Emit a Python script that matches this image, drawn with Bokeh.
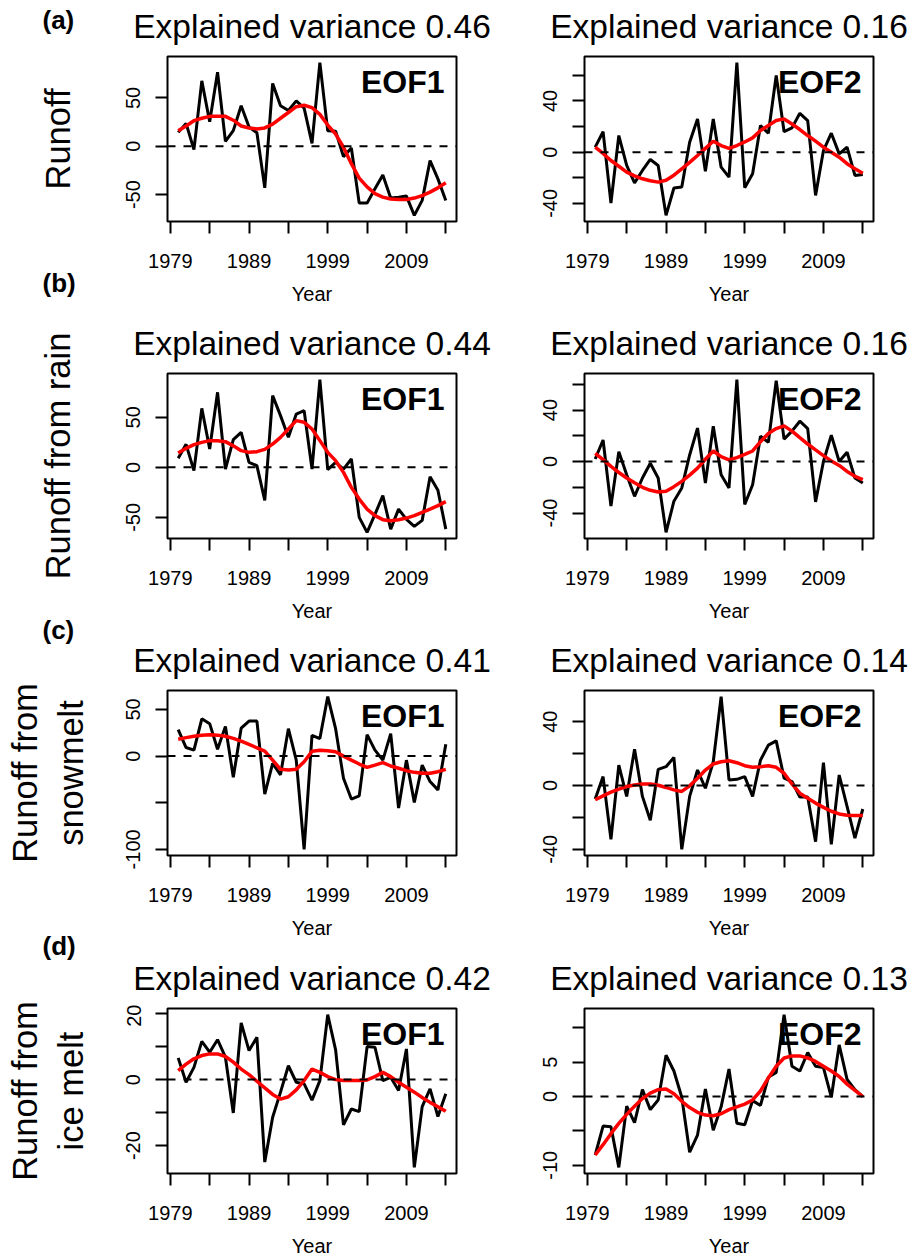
import numpy as np
from bokeh.plotting import figure
from bokeh.models import Range1d, FixedTicker, Span, Label
from bokeh.layouts import column, row
from bokeh.embed import file_html
from bokeh.resources import INLINE

# ---------------- data ----------------
years = list(range(1980, 2015))
x_ticks = [1979, 1984, 1989, 1994, 1999, 2004, 2009, 2014]
x_tick_labels = ["1979", "", "1989", "", "1999", "", "2009", ""]

runoff_eof1 = [14.4, 23.7, -3.4, 67.7, 25.4, 76.6, 5.2, 16.2, 41.9, 20, 14, -43, 65, 42, 37, 47, 39.5, 3,
               86.6, 16, 15.5, -10.7, -1.7, -58.8, -58.8, -44, -29.6, -53.6, -52.6, -51.5, -71.5, -56, -14.8, -33.7, -56]
runoff_eof1_trend = [16, 21, 26.5, 29, 31, 31, 31, 27, 21, 19, 18, 19, 23, 29, 35, 41, 42.5, 40,
                     33, 22, 12.7, -1, -18, -33, -42, -49, -52.6, -54.6, -55, -55, -53.6, -51, -47.4, -43, -37.8]
runoff_eof2 = [3.9, 16, -39.7, 13, -10.4, -24, -14.3, -5.7, -10.4, -49.4, -28, -27.3, 7.8, 26, -15, 26, -11.7, -19.5,
               70, -27.8, -16.9, 20.8, 14.8, 60, 16, 19, 30.4, 24.7, -33.8, 1.3, 14.8, -1.3, 3.9, -18.2, -17.4]
runoff_eof2_trend = [3.9, -1, -6.5, -11, -15.6, -18.5, -20.8, -22.3, -23.4, -22, -18, -13, -8, -2.6, 3, 8.6, 5.2, 3,
                     5.2, 8, 11.2, 16.9, 20.8, 24.7, 26, 22, 17.7, 13, 8.6, 3.9, 0, -3.9, -9, -13, -16.4]

rain_eof1 = [9, 23, -3.3, 59, 18.3, 75, -1.7, 27.7, 35, 5, 1.7, -33, 71.7, 51.7, 30, 53.3, 56.7, -1.7,
             87.7, -2.3, 5, -1.7, 8.3, -50, -65, -47, -28.3, -61.7, -41.7, -52, -59, -53, -9.3, -23, -61.7]
rain_eof1_trend = [14.3, 19, 22.7, 25, 26.7, 26.7, 25.7, 21.5, 16.7, 15, 15.7, 18, 23.3, 30, 38.3, 46.7, 45, 38.3,
                   26.7, 15, 6.7, -5, -20, -31.7, -41.7, -48.3, -52.3, -53.3, -52.3, -50.7, -48.3, -45, -41.7, -38.3, -34.3]
rain_eof2 = [2, 16.7, -34.6, 7.7, -10.3, -27, -12.8, -1.3, -12.8, -55, -30.8, -20.5, 5.1, 26, -16.7, 27.4, -10.3, -20.5,
             63.6, -33.3, -18, 19.7, 14.9, 62.8, 17.4, 23.6, 31.3, 25.6, -31.3, 0, 20.5, 0, 7.2, -12.8, -16.7]
rain_eof2_trend = [6.4, 1.5, -3.8, -8.5, -12.8, -16.5, -20, -22.3, -23.6, -23, -19.5, -15.4, -10.5, -5.1, 1.8, 8.2, 3.8, 1.3,
                   3, 5.5, 8.2, 15.4, 21.8, 25.6, 27.7, 23.6, 18.5, 13.6, 9, 4.6, 0.5, -3, -7.7, -11.5, -14]

snow_eof1 = [28.4, 9.2, 6.4, 40, 34.8, 7.4, 31.9, -22.7, 30, 37.6, 37.6, -40.8, -7.8, -20, 29.4, -4.3, -100, 22.3,
             18.8, 63.8, 29.4, -23.8, -46, -42.6, 23, 6.4, -4.3, 24.1, -55.7, -4.3, -49.6, -9.6, -27.3, -36.2, 12.8]
snow_eof1_trend = [18, 19.8, 21.3, 22.3, 23, 22.5, 21.3, 19, 16, 12.5, 8.9, 5.3, -4.3, -14.2, -14.9, -14.2, -6, 5.3,
                   6.4, 5.7, 4.6, 0, -4.3, -8.5, -12, -9.6, -7, -10.6, -13, -15.6, -17.4, -18.4, -18.4, -16.7, -14.2]
snow_eof2 = [-8.5, 5.6, -33.7, 12.8, -6.8, 22.8, -6.8, -21.7, 10.1, 11.8, 17.6, -40, -6.8, 9.7, -1.7, 14.9, 55.7, 3.5,
             3.9, 5.6, -6.8, 15.9, 25.3, 28, 4.6, 2.5, -7.2, -7.2, -35.2, 14.3, -36.9, 6.6, -13, -33, -14.7]
snow_eof2_trend = [-8.9, -6.5, -4.1, -2.2, -0.6, 0.3, 1, 1, 0.2, -1.2, -2.7, -3.7, -0.2, 4.6, 9.7, 13.5, 14.9, 15.5,
                   14.3, 12.4, 11.4, 11.8, 12.4, 11.4, 7.7, 1, -4.8, -7.9, -11, -13.7, -16.1, -17.8, -18.6, -18.8, -18.8]

ice_eof1 = [6.6, -0.8, 3.7, 11.6, 8.3, 12.1, 6.8, -10.1, 17.2, 8.8, 12.8, -25, -11.4, -3.8, 4.2, -0.8, -1.3, -6.2,
            -0.3, 19.7, 9, -13.7, -8.9, -9.7, 10, 9.8, -0.3, 0.7, -3.3, 9.3, -26.6, -8.2, -2.8, -11.2, -4.3]
ice_eof1_trend = [2.7, 4.7, 6.3, 7.3, 7.8, 7.8, 7, 5.3, 3.2, 1.5, -0.5, -2.5, -4.5, -5.9, -5.2, -3.1, -0.3, 3.2,
                  2.2, 0.9, 0, -0.3, -0.3, -0.3, -0.1, 0.9, 2.2, 0.9, -0.8, -2.3, -3.8, -5.4, -6.9, -8.2, -9.6]
ice_eof2 = [-8.5, -4.3, -4.4, -10.3, -1.4, -3.8, 1, -1.9, -0.5, 6, 3.7, -0.1, -8.1, -5.6, 1.1, -4.9, -1.5, 4,
            -3.9, -4.1, -0.6, -1.3, 2.8, 3.5, 11.9, 4.4, 3.7, 6.4, 4.4, 4.2, -0.1, 7.5, 2.5, 1, 0]
ice_eof2_trend = [-8.5, -7, -5.4, -3.9, -2.6, -1.4, -0.3, 0.5, 1, 1.1, 0.4, -0.7, -1.6, -2.3, -2.7, -2.8, -2.5, -1.9,
                  -1.5, -1.1, -0.5, 0.8, 2.7, 4.4, 5.6, 5.9, 5.9, 5.6, 5.1, 4.4, 3.7, 2.9, 1.8, 0.9, 0]

# y ticks and which of them carry a label
yt_runoff1 = [-50, 0, 50];              yl_runoff1 = ["-50", "0", "50"]
yt_runoff2 = [-40, -20, 0, 20, 40, 60]; yl_runoff2 = ["-40", "", "0", "", "40", ""]
yt_rain1 = [-50, 0, 50];                yl_rain1 = ["-50", "0", "50"]
yt_rain2 = [-40, -20, 0, 20, 40, 60];   yl_rain2 = ["-40", "", "0", "", "40", ""]
yt_snow1 = [-100, -50, 0, 50];          yl_snow1 = ["-100", "", "0", "50"]
yt_snow2 = [-40, -20, 0, 20, 40];       yl_snow2 = ["-40", "", "0", "", "40"]
yt_ice1 = [-20, -10, 0, 10, 20];        yl_ice1 = ["-20", "", "0", "", "20"]
yt_ice2 = [-10, -5, 0, 5, 10];          yl_ice2 = ["-10", "", "0", "5", ""]

variance = [["0.46", "0.16"], ["0.44", "0.16"], ["0.41", "0.14"], ["0.42", "0.13"]]
row_names = [["Runoff"], ["Runoff from rain"], ["Runoff from", "snowmelt"], ["Runoff from", "ice melt"]]
panel_letters = ["(a)", "(b)", "(c)", "(d)"]
eof_names = ["EOF1", "EOF2"]
x_title = "Year"
zero_level = 0

# ---------------- layout (page pixels, page has no margin) ----------------
FONT = "Liberation Sans"
PAGE_W, PAGE_H = 913, 1258
NARROW_W = 100
COL_CANVAS = [(100, 520), (520, PAGE_W)]
COL_FRAME = [(167, 456), (584, 873)]
FRAME_Y = [(56, 221), (373, 538), (690, 855), (1008, 1173)]
TOP_PAD, BOTTOM_PAD = 4, 56
LETTER_Y = [22, 285, 632, 948]
LETTER_X = 42
ROWLABEL_X = {1: [70], 2: [37, 83]}
TITLE_RISE = 18
YEAR_DROP = [80, 80, 80, 80]
MID = 0.36          # box centre lies this many em above the baseline
TITLE_PX, ROW_PX, LETTER_PX, EOF_PX, YEAR_PX = 33.5, 34.5, 26, 32, 20


def blank(x0, x1, y0, y1):
    p = figure(width=x1 - x0, height=y1 - y0, output_backend="svg", toolbar_location=None,
               x_range=Range1d(x0, x1), y_range=Range1d(y1, y0),
               x_axis_location=None, y_axis_location=None,
               min_border_left=0, min_border_right=0, min_border_top=0, min_border_bottom=0)
    p.outline_line_color = None
    p.background_fill_color = "white"
    p.border_fill_color = "white"
    p.grid.visible = False
    return p


def put(p, text, x, y, size, bold=False, align="left", angle=0.0, units="data"):
    p.add_layout(Label(x=x, y=y, x_units=units, y_units=units, text=text,
                       text_font=FONT, text_font_size=f"{size}px",
                       text_font_style="bold" if bold else "normal",
                       text_align=align, text_baseline="middle", text_color="black",
                       angle=angle))


def make_panel(r, c, black, trend, yt, yl):
    cl, cr = COL_CANVAS[c]
    fl, fr = COL_FRAME[c]
    ft, fb = FRAME_Y[r]
    lo, hi = min(black), max(black)
    pad = 0.04 * (hi - lo)
    xpad = 0.04 * (years[-1] - years[0])
    p = figure(width=cr - cl, height=(fb - ft) + TOP_PAD + BOTTOM_PAD,
               output_backend="svg", toolbar_location=None,
               x_range=Range1d(years[0] - xpad, years[-1] + xpad),
               y_range=Range1d(lo - pad, hi + pad),
               min_border_left=fl - cl, min_border_right=cr - fr,
               min_border_top=TOP_PAD, min_border_bottom=BOTTOM_PAD)
    p.background_fill_color = "white"
    p.border_fill_color = "white"
    p.outline_line_color = "black"
    p.outline_line_width = 2
    p.outline_line_alpha = 1
    p.xgrid.visible = False
    p.ygrid.visible = False
    for ax in (p.xaxis, p.yaxis):
        ax.axis_line_color = None
        ax.major_tick_line_color = "black"
        ax.major_tick_line_width = 2
        ax.major_tick_out = 12
        ax.major_tick_in = 0
        ax.minor_tick_line_color = None
        ax.major_label_text_font = FONT
        ax.major_label_text_font_size = "20px"
        ax.major_label_text_color = "black"
    p.xaxis.ticker = FixedTicker(ticks=x_ticks)
    p.xaxis.major_label_overrides = {t: s for t, s in zip(x_ticks, x_tick_labels)}
    p.xaxis.major_label_standoff = 20
    p.yaxis.ticker = FixedTicker(ticks=yt)
    p.yaxis.major_label_overrides = {t: s for t, s in zip(yt, yl)}
    p.yaxis.major_label_orientation = "vertical"
    p.yaxis.major_label_standoff = 15

    p.add_layout(Span(location=zero_level, dimension="width", line_color="black",
                      line_width=2, line_dash="8 8"))
    p.line(years, black, line_color="black", line_width=3)
    p.line(years, trend, line_color="#ff0000", line_width=3.5)
    fw, fh = fr - fl, fb - ft
    put(p, eof_names[c], fw - 12, fh - (37 - MID * EOF_PX), EOF_PX, bold=True, align="right",
        units="screen")
    return p


series = [
    (runoff_eof1, runoff_eof1_trend, yt_runoff1, yl_runoff1, runoff_eof2, runoff_eof2_trend, yt_runoff2, yl_runoff2),
    (rain_eof1, rain_eof1_trend, yt_rain1, yl_rain1, rain_eof2, rain_eof2_trend, yt_rain2, yl_rain2),
    (snow_eof1, snow_eof1_trend, yt_snow1, yl_snow1, snow_eof2, snow_eof2_trend, yt_snow2, yl_snow2),
    (ice_eof1, ice_eof1_trend, yt_ice1, yl_ice1, ice_eof2, ice_eof2_trend, yt_ice2, yl_ice2),
]

# narrow left strip: row names and panel letters
narrow = blank(0, NARROW_W, 0, PAGE_H)
for r in range(4):
    put(narrow, panel_letters[r], LETTER_X, LETTER_Y[r] - 0.09 * LETTER_PX, LETTER_PX, bold=True)
    ft, fb = FRAME_Y[r]
    names = row_names[r]
    for text, xb in zip(names, ROWLABEL_X[len(names)]):
        put(narrow, text, xb - MID * ROW_PX, (ft + fb) / 2, ROW_PX, align="center", angle=np.pi / 2)

# horizontal strips between panel rows: titles above and "Year" below
centres = [(a + b) / 2 for a, b in COL_FRAME]
children = []
strip_top = 0
for r in range(5):
    strip_bottom = FRAME_Y[r][0] - TOP_PAD if r < 4 else PAGE_H
    strip = blank(COL_CANVAS[0][0], COL_CANVAS[1][1], strip_top, strip_bottom)
    if r > 0:
        for cx in centres:
            put(strip, x_title, cx, FRAME_Y[r - 1][1] + YEAR_DROP[r - 1] - MID * YEAR_PX, YEAR_PX,
                align="center")
    if r < 4:
        for c, cx in enumerate(centres):
            put(strip, "Explained variance " + variance[r][c], cx,
                FRAME_Y[r][0] - TITLE_RISE - MID * TITLE_PX, TITLE_PX, align="center")
    children.append(strip)
    if r < 4:
        s = series[r]
        left = make_panel(r, 0, s[0], s[1], s[2], s[3])
        right = make_panel(r, 1, s[4], s[5], s[6], s[7])
        children.append(row(left, right, spacing=0))
        strip_top = FRAME_Y[r][1] + BOTTOM_PAD

layout = row(narrow, column(*children, spacing=0), spacing=0)
open("out.html", "w").write(file_html(layout, INLINE))
